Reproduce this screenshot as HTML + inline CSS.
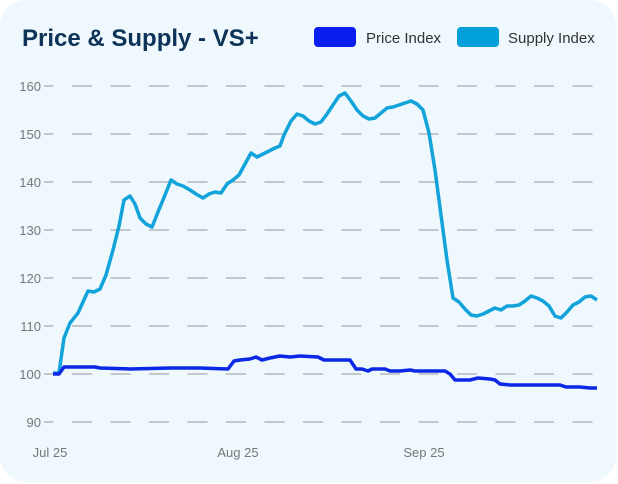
<!DOCTYPE html>
<html><head><style>
html,body{margin:0;padding:0;background:#fff;}
body{width:618px;height:484px;overflow:hidden;font-family:"Liberation Sans",sans-serif;}
.card{position:absolute;left:0;top:0;width:616px;height:482px;background:#eef8fd;border-radius:26px;}
</style></head><body>
<div class="card"></div>
<svg width="618" height="484" style="position:absolute;left:0;top:0">
<text x="22" y="46" font-size="24" font-weight="bold" fill="#0d3358" font-family="Liberation Sans, sans-serif">Price &amp; Supply - VS+</text>
<rect x="314" y="27" width="42" height="20" rx="4" fill="#0a1ef0"/>
<text x="366" y="43" font-size="15" fill="#333">Price Index</text>
<rect x="457" y="27" width="42" height="20" rx="4" fill="#00a0da"/>
<text x="508" y="43" font-size="15" fill="#333">Supply Index</text>
<g stroke="#999" stroke-width="1" stroke-dasharray="20 18.5" stroke-dashoffset="-28">
<line x1="44" y1="86" x2="598" y2="86"/><line x1="44" y1="134" x2="598" y2="134"/>
<line x1="44" y1="182" x2="598" y2="182"/><line x1="44" y1="230" x2="598" y2="230"/>
<line x1="44" y1="278" x2="598" y2="278"/><line x1="44" y1="326" x2="598" y2="326"/>
<line x1="44" y1="374" x2="598" y2="374"/><line x1="44" y1="422" x2="598" y2="422"/>
</g>
<g font-size="13" fill="#777" text-anchor="end">
<text x="41" y="91">160</text><text x="41" y="139">150</text><text x="41" y="187">140</text>
<text x="41" y="235">130</text><text x="41" y="283">120</text><text x="41" y="331">110</text>
<text x="41" y="379">100</text><text x="41" y="427">90</text>
</g>
<g font-size="13" fill="#777" text-anchor="middle">
<text x="50" y="457">Jul 25</text><text x="238" y="457">Aug 25</text><text x="424" y="457">Sep 25</text>
</g>
<polyline fill="none" stroke="#12a3da" stroke-width="3.5" stroke-linejoin="round" points="53,373 59,373 64,338 70,323 78,313 88,291 94,292 100,289 106,275 113,250 119,226 124,200 130,196 135,204 140,218 146,224 152,227 158,212 165,195 171,180 177,184 183,186 190,190 196,194 203,198 209,194 215,192 221,193 227,184 233,180 239,175 245,164 251,153 257,157 263,154 269,151 275,148 280,146 284,135 291,121 297,114 303,116 309,121 315,124 321,122 327,114 333,105 339,96 345,93 351,101 357,110 363,116 369,119 375,118 381,113 387,108 393,107 399,105 405,103 411,101 417,104 423,110 429,133 435,170 441,215 447,260 453,298 459,302 465,309 471,315 477,316 483,314 489,311 495,308 501,310 507,306 513,306 519,305 525,301 531,296 537,298 543,301 549,306 555,316 561,318 567,312 573,305 579,302 585,297 591,296 597,300"/>
<polyline fill="none" stroke="#0a28e6" stroke-width="3.5" stroke-linejoin="round" points="53,374 59,374 64,367 95,367 100,368 130,369 170,368 200,368 228,369 234,361 240,360 250,359 256,357 262,360 270,358 280,356 290,357 300,356 318,357 324,360 350,360 356,369 362,369 368,371 372,369 385,369 390,371 400,371 410,370 415,371 445,371 450,374 455,380 470,380 478,378 490,379 495,380 500,384 510,385 530,385 560,385 566,387 580,387 590,388 597,388"/>
</svg>
</body></html>
